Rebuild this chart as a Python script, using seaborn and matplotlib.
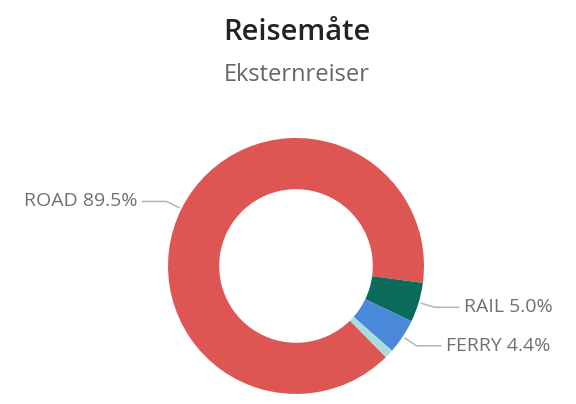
import matplotlib
matplotlib.use("Agg")
import matplotlib.pyplot as plt
import seaborn as sns
import numpy as np

# data
modes = ["ROAD", "RAIL", "FERRY", ""]
shares = [89.5, 5.0, 4.4, 1.1]
colors = ["#DE5653", "#0B6B5B", "#4A88DA", "#A9DCDF"]

title = "Reisemåte"
subtitle = "Eksternreiser"

sns.set_theme(style="white")
plt.rcParams["font.family"] = ["Open Sans", "DejaVu Sans"]

fig = plt.figure(figsize=(5.76, 4.04), dpi=100, facecolor="white")
ax = fig.add_axes([0.2917, 0.0248, 0.4444, 0.6337])

start = -45.4
wedges, _ = ax.pie(
    shares,
    colors=colors,
    startangle=start,
    counterclock=False,
    radius=1.0,
    wedgeprops=dict(width=0.4, edgecolor="none"),
)
ax.set_xlim(-1, 1)
ax.set_ylim(-1, 1)
ax.set_aspect("equal")
ax.axis("off")

label_color = "#707070"
line_color = "#B5B5B5"
for w, name, val in zip(wedges, modes, shares):
    if not name:
        continue
    ang = np.deg2rad((w.theta1 + w.theta2) / 2)
    c, s = np.cos(ang), np.sin(ang)
    p0 = (1.02 * c, 1.02 * s)
    p1 = (1.13 * c, 1.13 * s)
    side = np.sign(c)
    p2 = (p1[0] + side * 0.19, p1[1])
    ax.plot([p0[0], p1[0], p2[0]], [p0[1], p1[1], p2[1]],
            color=line_color, lw=1.1, clip_on=False, solid_capstyle="round")
    ax.text(p2[0] + side * 0.04, p2[1], f"{name} {val:.1f}%",
            ha="left" if side > 0 else "right", va="center",
            fontsize=14, color=label_color, clip_on=False)

fig.text(0.516, 1 - 40 / 404, title, ha="center", va="baseline",
         fontsize=21, fontweight="semibold", color="#252423")
fig.text(0.516, 1 - 81 / 404, subtitle, ha="center", va="baseline",
         fontsize=17, color="#666666")

fig.savefig("out.png", dpi=100, facecolor="white")
